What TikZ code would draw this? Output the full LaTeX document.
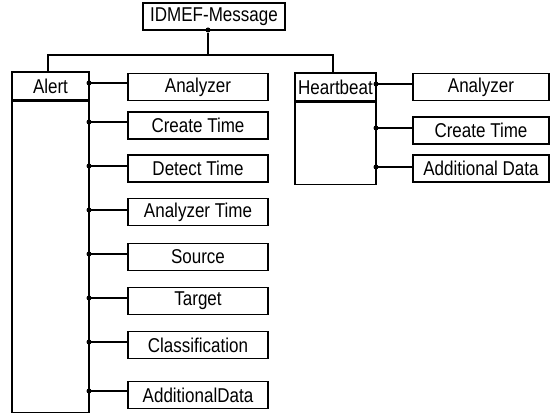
\documentclass[tikz,border=0pt]{standalone}
\usepackage{fontspec}
\setmainfont{Liberation Sans}[FakeStretch=0.85]
\begin{document}
\begin{tikzpicture}[x=1pt,y=-1pt,
  line width=1.1pt,
  box/.style={draw, rectangle, inner sep=0pt, minimum height=27pt,
              font=\fontsize{20}{22}\selectfont},
  alertchild/.style={box, minimum width=140pt},
  hbchild/.style={box, minimum width=136pt},
  junction/.style={circle, fill=black, inner sep=0pt, minimum size=5pt},
  link/.style={line width=1.4pt}]
\useasboundingbox (0,0) rectangle (555,414);

% root element
\node[box, minimum width=142pt] (msg) at (214,16.5) {IDMEF-Message};

% Alert class: header and body
\node[box, minimum width=77pt, minimum height=28pt] (alert) at (50.5,86) {Alert};
\node[draw, rectangle, inner sep=0pt, minimum width=77pt, minimum height=311pt,
      anchor=north] (alertbody) at (alert.south) {};

% Heartbeat class: header and body
\node[box, minimum width=81pt, minimum height=28pt] (hb) at (335.5,87) {Heartbeat};
\node[draw, rectangle, inner sep=0pt, minimum width=81pt, minimum height=82pt,
      anchor=north] (hbbody) at (hb.south) {};

% tree from the root down to both classes
\node[junction] (root) at (208,30) {};
\coordinate (bus) at (208,55);
\coordinate (alerttop) at (48,0 |- alert.north);
\coordinate (hbtop) at (333,0 |- hb.north);
\draw (root) -- (bus);
\draw (alerttop) |- (bus) -| (hbtop);

% Alert aggregates
\foreach \name/\txt/\cy/\jy in {
  aan/Analyzer/87/83,
  act/Create Time/125.5/122,
  adt/Detect Time/168.5/166,
  aat/Analyzer Time/212/210,
  asr/Source/257/254,
  atg/Target/301/298,
  acl/Classification/345/342,
  aad/AdditionalData/395/391} {
  \node[alertchild] (\name) at (198,\cy) {\txt};
  \node[junction] (j\name) at (89,\jy) {};
  \draw[link] (j\name.center) -- (j\name.center -| \name.west);
}

% Heartbeat aggregates
\foreach \name/\txt/\cy/\jy in {
  han/Analyzer/87/84,
  hct/Create Time/130.5/128,
  had/Additional Data/168.5/167} {
  \node[hbchild] (\name) at (481,\cy) {\txt};
  \node[junction] (j\name) at (376,\jy) {};
  \draw[link] (j\name.center) -- (j\name.center -| \name.west);
}
\end{tikzpicture}
\end{document}
